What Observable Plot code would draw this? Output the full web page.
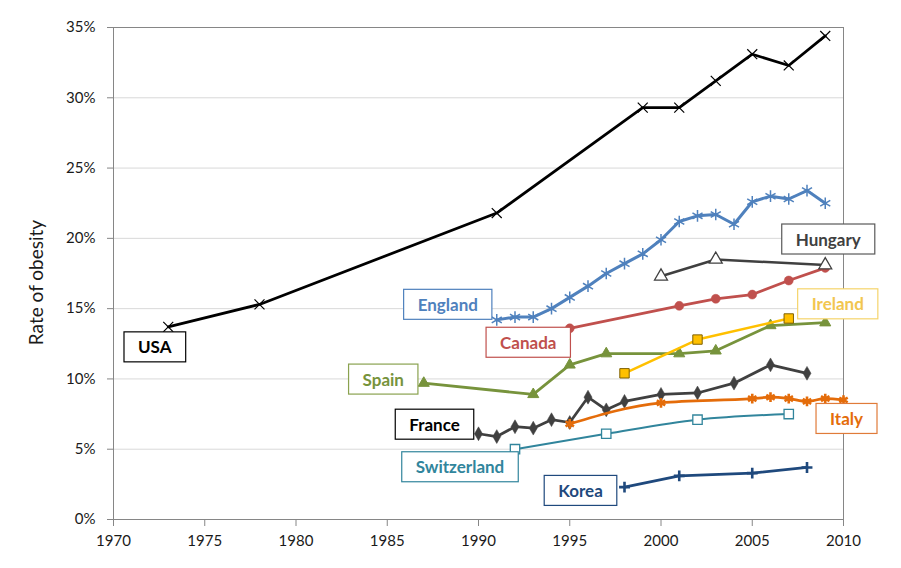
<!DOCTYPE html>
<html><head><meta charset="utf-8">
<script src="https://cdn.jsdelivr.net/npm/d3@7"></script>
<script src="https://cdn.jsdelivr.net/npm/@observablehq/plot@0.6"></script>
<style>html,body{margin:0;padding:0;background:#fff;} #chart svg{display:block;}</style>
</head><body><div id="chart"></div>
<script>
// ---- data (rates in %) ----
const usaYears = [1973, 1978, 1991, 1999, 2001, 2003, 2005, 2007, 2009];
const usaRates = [13.7, 15.3, 21.8, 29.3, 29.3, 31.2, 33.1, 32.3, 34.4];

const englandYears = [1991, 1992, 1993, 1994, 1995, 1996, 1997, 1998, 1999, 2000, 2001, 2002, 2003, 2004, 2005, 2006, 2007, 2008, 2009];
const englandRates = [14.2, 14.4, 14.4, 15.0, 15.8, 16.6, 17.5, 18.2, 18.9, 19.9, 21.2, 21.6, 21.7, 21.0, 22.6, 23.0, 22.8, 23.4, 22.5];

const hungaryYears = [2000, 2003, 2009];
const hungaryRates = [17.3, 18.5, 18.1];

const canadaYears = [1995, 2001, 2003, 2005, 2007, 2009];
const canadaRates = [13.6, 15.2, 15.7, 16.0, 17.0, 17.9];

const irelandYears = [1998, 2002, 2007];
const irelandRates = [10.4, 12.8, 14.3];

const spainYears = [1987, 1993, 1995, 1997, 2001, 2003, 2006, 2009];
const spainRates = [9.7, 8.9, 11.0, 11.8, 11.8, 12.0, 13.8, 14.0];

const franceYears = [1990, 1991, 1992, 1993, 1994, 1995, 1996, 1997, 1998, 2000, 2002, 2004, 2006, 2008];
const franceRates = [6.1, 5.9, 6.6, 6.5, 7.1, 6.9, 8.7, 7.8, 8.4, 8.9, 9.0, 9.7, 11.0, 10.4];

const italyYears = [1995, 2000, 2005, 2006, 2007, 2008, 2009, 2010];
const italyRates = [6.8, 8.3, 8.6, 8.7, 8.6, 8.4, 8.6, 8.5];

const switzerlandYears = [1992, 1997, 2002, 2007];
const switzerlandRates = [5.0, 6.1, 7.1, 7.5];

const koreaYears = [1998, 2001, 2005, 2008];
const koreaRates = [2.3, 3.1, 3.3, 3.7];

const xTicks = [1970, 1975, 1980, 1985, 1990, 1995, 2000, 2005, 2010];
const yTicks = [0, 5, 10, 15, 20, 25, 30, 35];
const yTitle = "Rate of obesity";

// ---- series styling ----
const series = [
  {name: "Spain", years: spainYears, rates: spainRates, line: "#77933c", symbol: "triangle", fill: "#77933c", stroke: "#77933c", r: 4.1, sw: 1, lw: 2.75, curve: "linear", text: "#77933c", box: "#8aa24f", anchor: "first", dx: -40.5, dy: -3},
  {name: "Ireland", years: irelandYears, rates: irelandRates, line: "#ffc000", symbol: "square", fill: "#ffc000", stroke: "#7f6000", r: 5.3, sw: 1, lw: 2.5, curve: "linear", text: "#f2c650", box: "#f5d46a", anchor: "last", dx: 49, dy: -13.6},
  {name: "Canada", years: canadaYears, rates: canadaRates, line: "#c0504d", symbol: "circle", fill: "#c0504d", stroke: "#c0504d", r: 4.5, sw: 0.5, lw: 2.75, curve: "linear", text: "#c0504d", box: "#c0504d", anchor: "first", dx: -41.5, dy: 15},
  {name: "Hungary", years: hungaryYears, rates: hungaryRates, line: "#404040", symbol: "triangle", fill: "#ffffff", stroke: "#404040", r: 4.8, sw: 1.3, lw: 2.5, curve: "linear", text: "#404040", box: "#595959", anchor: "last", dx: 3, dy: -25},
  {name: "England", years: englandYears, rates: englandRates, line: "#4f81bd", symbol: "asterisk", fill: "none", stroke: "#4f81bd", r: 5.5, sw: 1.5, lw: 3, curve: "linear", text: "#4f81bd", box: "#4f81bd", anchor: "first", dx: -49, dy: -14.5},
  {name: "USA", years: usaYears, rates: usaRates, line: "#000000", symbol: "times", fill: "none", stroke: "#000000", r: 4.6, sw: 1.2, lw: 2.75, curve: "linear", text: "#000000", box: "#000000", anchor: "first", dx: -13.5, dy: 21},
  {name: "France", years: franceYears, rates: franceRates, line: "#404040", symbol: "diamond", fill: "#404040", stroke: "#404040", r: 4.2, sw: 0.5, lw: 2.75, curve: "linear", text: "#000000", box: "#000000", anchor: "first", dx: -44, dy: -8.5},
  {name: "Italy", years: italyYears, rates: italyRates, line: "#e46c0a", symbol: "asterisk", fill: "none", stroke: "#e46c0a", r: 4.6, sw: 2.6, lw: 2.75, curve: "monotone-x", text: "#e46c0a", box: "#e07b39", anchor: "last", dx: 3, dy: 19.5},
  {name: "Switzerland", years: switzerlandYears, rates: switzerlandRates, line: "#31859c", symbol: "square", fill: "#ffffff", stroke: "#31859c", r: 5.3, sw: 1.3, lw: 2, curve: "monotone-x", text: "#31859c", box: "#31859c", anchor: "first", dx: -55, dy: 18.6},
  {name: "Korea", years: koreaYears, rates: koreaRates, line: "#1f497d", symbol: "plus", fill: "none", stroke: "#1f497d", r: 3.6, sw: 2.6, lw: 2.75, curve: "linear", text: "#1f497d", box: "#1f497d", anchor: "first", dx: -44, dy: 4.3}
];

const seriesMarks = [];
const labelMarks = [];
for (const s of series) {
  const rows = s.years.map((year, i) => ({name: s.name, year, rate: s.rates[i]}));
  seriesMarks.push(Plot.line(rows, {x: "year", y: "rate", stroke: s.line, strokeWidth: s.lw, curve: s.curve}));
  seriesMarks.push(Plot.dot(rows, {x: "year", y: "rate", symbol: s.symbol, r: s.r, fill: s.fill, stroke: s.stroke, strokeWidth: s.sw}));
  const anchorRow = s.anchor === "first" ? rows[0] : rows[rows.length - 1];
  labelMarks.push(Plot.text([anchorRow], {x: "year", y: "rate", text: "name", dx: s.dx, dy: s.dy, fill: s.text, fontSize: 17, fontWeight: "bold"}));
}

const chart = Plot.plot({
  width: 901,
  height: 568,
  marginLeft: 113,
  marginRight: 58,
  marginTop: 27,
  marginBottom: 49,
  style: {fontFamily: "Lato, 'Open Sans', sans-serif", fontSize: "15px", color: "#1a1a1a", background: "#fff"},
  x: {domain: [1970, 2010], axis: null},
  y: {domain: [0, 35], axis: null},
  marks: [
    Plot.gridY(yTicks.filter(d => d > 0 && d < 35), {stroke: "#d9d9d9", strokeOpacity: 1, strokeWidth: 1}),
    Plot.ruleY([35], {stroke: "#868686", strokeWidth: 1}),
    Plot.ruleX([2010], {stroke: "#868686", strokeWidth: 1}),
    Plot.ruleY([0], {stroke: "#868686", strokeWidth: 1}),
    Plot.ruleX([1970], {stroke: "#868686", strokeWidth: 1}),
    ...seriesMarks,
    ...labelMarks,
    Plot.axisY(yTicks, {tickFormat: d => d + "%", tickSize: 6, tickPadding: 12, fontSize: 15, stroke: "#868686", label: null}),
    Plot.axisX(xTicks, {tickFormat: d => String(d), tickSize: 7, tickPadding: 9, fontSize: 15, stroke: "#868686", label: null}),
    Plot.text([yTitle], {frameAnchor: "left", textAnchor: "middle", text: d => d, rotate: -90, dx: -77, dy: 9, fontSize: 19, fill: "#1a1a1a"})
  ]
});
document.getElementById("chart").append(chart);

// draw label boxes behind the label texts
const boxColor = new Map(series.map(s => [s.name, s.box]));
chart.querySelectorAll("text").forEach(t => {
  const name = t.textContent;
  if (!boxColor.has(name)) return;
  const b = t.getBBox();
  const cy = b.y + b.height / 2;
  const rect = document.createElementNS("http://www.w3.org/2000/svg", "rect");
  rect.setAttribute("x", b.x - 14);
  rect.setAttribute("y", cy - 15);
  rect.setAttribute("width", b.width + 28);
  rect.setAttribute("height", 30);
  rect.setAttribute("fill", "#fff");
  rect.setAttribute("stroke", boxColor.get(name));
  rect.setAttribute("stroke-width", 1.2);
  const tr = t.getAttribute("transform");
  if (tr) rect.setAttribute("transform", tr);
  t.parentNode.insertBefore(rect, t);
});
</script>
</body></html>
